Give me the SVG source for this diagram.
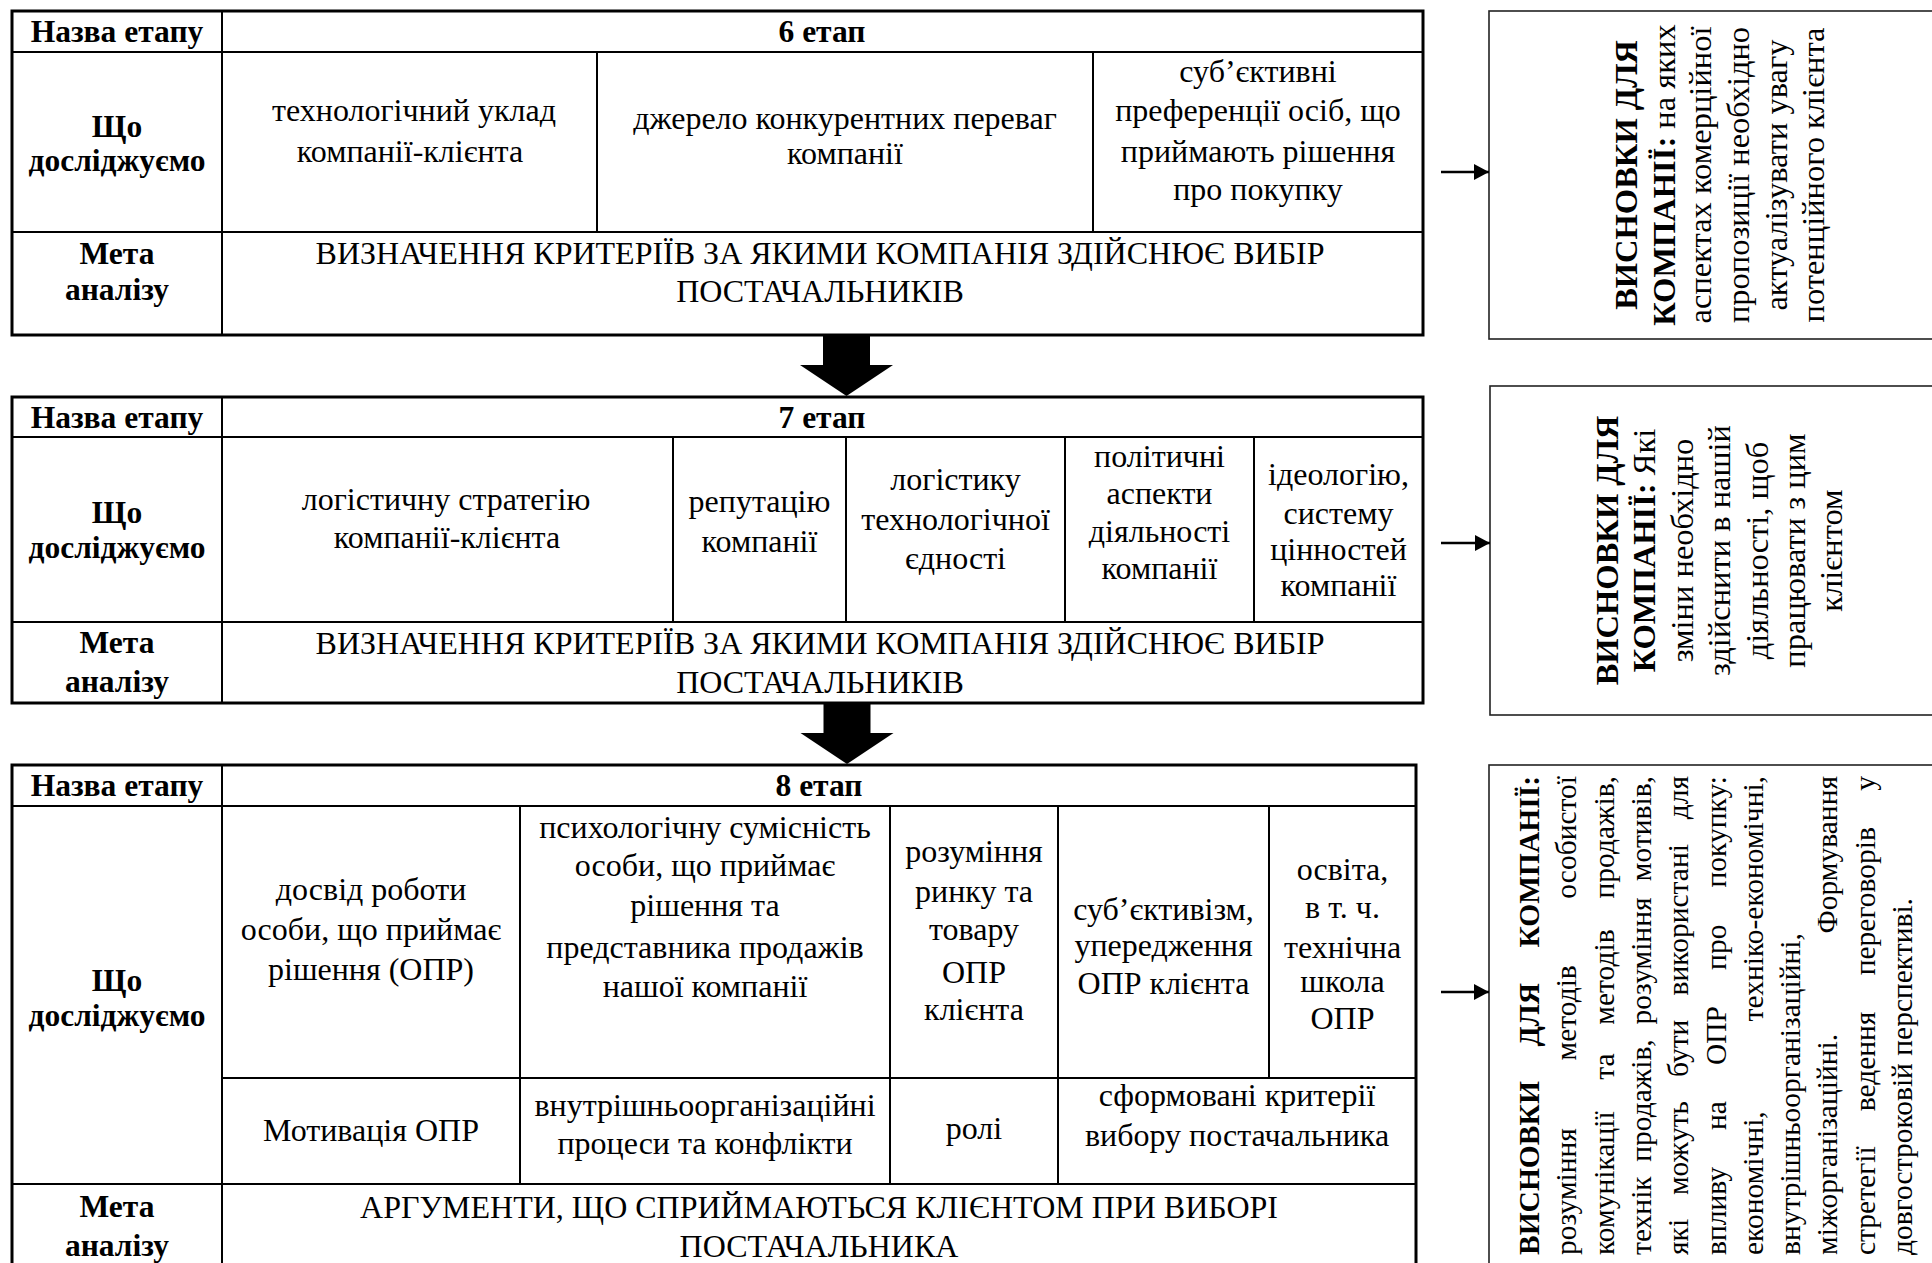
<svg xmlns="http://www.w3.org/2000/svg" width="1932" height="1263" viewBox="0 0 1932 1263">
<style>
text { font-family: "Liberation Serif", "Times New Roman", serif; fill: #000; }
.t { font-size: 32px; text-anchor: middle; }
.b { font-size: 31.5px; text-anchor: middle; font-weight: bold; }
.bb { font-weight: bold; }
.outer { fill: #fff; stroke: #000; stroke-width: 3; }
.ln { stroke: #000; stroke-width: 2; fill: none; }
.box { fill: #fff; stroke: #222; stroke-width: 1.6; }
.r1 { font-size: 32.5px; text-anchor: middle; }
.r3 { font-size: 29.5px; }
.e { text-anchor: end; }
.small { stroke: #000; stroke-width: 2.5; fill: none; marker-end: url(#ah); }
.big { fill: #000; }
</style>
<defs>
<marker id="ah" markerUnits="userSpaceOnUse" markerWidth="16" markerHeight="18" refX="15" refY="8" orient="auto">
<path d="M0,0 L15,8 L0,16 Z" fill="#000"/>
</marker>
<path id="bigArrow" d="M-23.5,0 H23.5 V30 H46.5 L0,61 L-46.5,30 H-23.5 Z"/>
</defs>
<rect width="1932" height="1263" fill="#fff"/>

<g id="stage6">
<rect class="outer" x="12" y="11" width="1411" height="324"/>
<path class="ln" d="M12,52 H1423 M12,232 H1423 M222,11 V335 M597,52 V232 M1093,52 V232"/>
<text class="b" x="117" y="42">Назва етапу</text>
<text class="b" x="822" y="42">6 етап</text>
<text class="b" x="117" y="137">Що</text>
<text class="b" x="117" y="171">досліджуємо</text>
<text class="t" x="414" y="121">технологічний уклад</text>
<text class="t" x="410" y="162">компанії-клієнта</text>
<text class="t" x="845" y="129">джерело конкурентних переваг</text>
<text class="t" x="845" y="164">компанії</text>
<text class="t" x="1258" y="82">суб’єктивні</text>
<text class="t" x="1258" y="121">преференції осіб, що</text>
<text class="t" x="1258" y="162">приймають рішення</text>
<text class="t" x="1258" y="200">про покупку</text>
<text class="b" x="117" y="264">Мета</text>
<text class="b" x="117" y="300">аналізу</text>
<text class="t" x="820" y="264">ВИЗНАЧЕННЯ КРИТЕРІЇВ ЗА ЯКИМИ КОМПАНІЯ ЗДІЙСНЮЄ ВИБІР</text>
<text class="t" x="820" y="302">ПОСТАЧАЛЬНИКІВ</text>
</g>

<g id="stage7">
<rect class="outer" x="12" y="397" width="1411" height="306"/>
<path class="ln" d="M12,437 H1423 M12,622 H1423 M222,397 V703 M673,437 V622 M846,437 V622 M1065,437 V622 M1254,437 V622"/>
<text class="b" x="117" y="428">Назва етапу</text>
<text class="b" x="822" y="428">7 етап</text>
<text class="b" x="117" y="523">Що</text>
<text class="b" x="117" y="558">досліджуємо</text>
<text class="t" x="446" y="510">логістичну стратегію</text>
<text class="t" x="447" y="548">компанії-клієнта</text>
<text class="t" x="759.5" y="512">репутацію</text>
<text class="t" x="759.5" y="552">компанії</text>
<text class="t" x="955.5" y="490">логістику</text>
<text class="t" x="955.5" y="530">технологічної</text>
<text class="t" x="955.5" y="569">єдності</text>
<text class="t" x="1159.5" y="467">політичні</text>
<text class="t" x="1159.5" y="504">аспекти</text>
<text class="t" x="1159.5" y="542">діяльності</text>
<text class="t" x="1159.5" y="579">компанії</text>
<text class="t" x="1338.5" y="485">ідеологію,</text>
<text class="t" x="1338.5" y="524">систему</text>
<text class="t" x="1338.5" y="560">цінностей</text>
<text class="t" x="1338.5" y="596">компанії</text>
<text class="b" x="117" y="653">Мета</text>
<text class="b" x="117" y="692">аналізу</text>
<text class="t" x="820" y="654">ВИЗНАЧЕННЯ КРИТЕРІЇВ ЗА ЯКИМИ КОМПАНІЯ ЗДІЙСНЮЄ ВИБІР</text>
<text class="t" x="820" y="693">ПОСТАЧАЛЬНИКІВ</text>
</g>

<g id="stage8">
<rect class="outer" x="12" y="765" width="1404" height="530"/>
<path class="ln" d="M12,806 H1416 M12,1184 H1416 M222,1078 H1416 M222,765 V1295 M520,806 V1184 M890,806 V1184 M1058,806 V1184 M1269,806 V1078"/>
<text class="b" x="117" y="796">Назва етапу</text>
<text class="b" x="819" y="796">8 етап</text>
<text class="b" x="117" y="991">Що</text>
<text class="b" x="117" y="1026">досліджуємо</text>
<text class="t" x="371" y="900">досвід роботи</text>
<text class="t" x="371" y="940">особи, що приймає</text>
<text class="t" x="371" y="980">рішення (ОПР)</text>
<text class="t" x="705" y="838">психологічну сумісність</text>
<text class="t" x="705" y="876">особи, що приймає</text>
<text class="t" x="705" y="916">рішення та</text>
<text class="t" x="705" y="958">представника продажів</text>
<text class="t" x="705" y="997">нашої компанії</text>
<text class="t" x="974" y="862">розуміння</text>
<text class="t" x="974" y="902">ринку та</text>
<text class="t" x="974" y="940">товару</text>
<text class="t" x="974" y="983">ОПР</text>
<text class="t" x="974" y="1020">клієнта</text>
<text class="t" x="1163.5" y="920">суб’єктивізм,</text>
<text class="t" x="1163.5" y="956">упередження</text>
<text class="t" x="1163.5" y="994">ОПР клієнта</text>
<text class="t" x="1342.5" y="880">освіта,</text>
<text class="t" x="1342.5" y="918">в т. ч.</text>
<text class="t" x="1342.5" y="958">технічна</text>
<text class="t" x="1342.5" y="992">школа</text>
<text class="t" x="1342.5" y="1029">ОПР</text>
<text class="t" x="371" y="1141">Мотивація ОПР</text>
<text class="t" x="705" y="1116">внутрішньоорганізаційні</text>
<text class="t" x="705" y="1154">процеси та конфлікти</text>
<text class="t" x="974" y="1139">ролі</text>
<text class="t" x="1237" y="1106">сформовані критерії</text>
<text class="t" x="1237" y="1146">вибору постачальника</text>
<text class="b" x="117" y="1217">Мета</text>
<text class="b" x="117" y="1256">аналізу</text>
<text class="t" x="819" y="1218">АРГУМЕНТИ, ЩО СПРИЙМАЮТЬСЯ КЛІЄНТОМ ПРИ ВИБОРІ</text>
<text class="t" x="819" y="1257">ПОСТАЧАЛЬНИКА</text>
</g>

<g id="conclusion6">
<rect class="box" x="1489" y="11" width="460" height="328"/>
<g transform="rotate(-90)">
<text class="r1" x="-175" y="1637"><tspan class="bb">ВИСНОВКИ ДЛЯ</tspan></text>
<text class="r1" x="-175" y="1675"><tspan class="bb">КОМПАНІЇ:</tspan> на яких</text>
<text class="r1" x="-175" y="1711">аспектах комерційної</text>
<text class="r1" x="-175" y="1749">пропозиції необхідно</text>
<text class="r1" x="-175" y="1787">актуалізувати увагу</text>
<text class="r1" x="-175" y="1824">потенційного клієнта</text>
</g>
</g>

<g id="conclusion7">
<rect class="box" x="1490" y="386" width="460" height="329"/>
<g transform="rotate(-90)">
<text class="r1" x="-550.5" y="1618"><tspan class="bb">ВИСНОВКИ ДЛЯ</tspan></text>
<text class="r1" x="-550.5" y="1655"><tspan class="bb">КОМПАНІЇ:</tspan> Які</text>
<text class="r1" x="-550.5" y="1693">зміни необхідно</text>
<text class="r1" x="-550.5" y="1730">здійснити в нашій</text>
<text class="r1" x="-550.5" y="1768">діяльності, щоб</text>
<text class="r1" x="-550.5" y="1805">працювати з цим</text>
<text class="r1" x="-550.5" y="1842">клієнтом</text>
</g>
</g>

<g id="conclusion8">
<rect class="box" x="1489" y="765" width="460" height="530"/>
<g transform="rotate(-90)" class="r3">
<text class="bb" x="-1255" y="1539">ВИСНОВКИ</text>
<text class="bb" x="-1046.5" y="1539">ДЛЯ</text>
<text class="bb e" x="-776" y="1539">КОМПАНІЇ:</text>
<text x="-1255" y="1576">розуміння</text>
<text x="-1060.5" y="1576">методів</text>
<text class="e" x="-776" y="1576">особистої</text>
<text x="-1255" y="1614">комунікації</text>
<text x="-1079.8" y="1614">та</text>
<text x="-1024.7" y="1614">методів</text>
<text class="e" x="-776" y="1614">продажів,</text>
<text x="-1255" y="1651">технік</text>
<text x="-1161.7" y="1651">продажів,</text>
<text x="-1024.4" y="1651">розуміння</text>
<text class="e" x="-776" y="1651">мотивів,</text>
<text x="-1255" y="1688">які</text>
<text x="-1195.1" y="1688">можуть</text>
<text x="-1077" y="1688">бути</text>
<text x="-995.4" y="1688">використані</text>
<text class="e" x="-776" y="1688">для</text>
<text x="-1255" y="1726">впливу</text>
<text x="-1130" y="1726">на</text>
<text x="-1065" y="1726">ОПР</text>
<text x="-969.9" y="1726">про</text>
<text class="e" x="-776" y="1726">покупку:</text>
<text x="-1255" y="1763">економічні,</text>
<text class="e" x="-776" y="1763">техніко-економічні,</text>
<text x="-1255" y="1800">внутрішньоорганізаційні,</text>
<text x="-1255" y="1837">міжорганізаційні.</text>
<text class="e" x="-776" y="1837">Формування</text>
<text x="-1255" y="1875">стретегії</text>
<text x="-1111.3" y="1875">ведення</text>
<text x="-975.3" y="1875">переговорів</text>
<text class="e" x="-776" y="1875">у</text>
<text x="-1255" y="1912">довгостроковій перспективі.</text>
</g>
</g>

<g id="connectors">
<use href="#bigArrow" class="big" transform="translate(846.5,335)"/>
<use href="#bigArrow" class="big" transform="translate(847,703)"/>
<line class="small" x1="1441" y1="172" x2="1489" y2="172"/>
<line class="small" x1="1441" y1="543" x2="1490" y2="543"/>
<line class="small" x1="1441" y1="992" x2="1489" y2="992"/>
</g>
</svg>
